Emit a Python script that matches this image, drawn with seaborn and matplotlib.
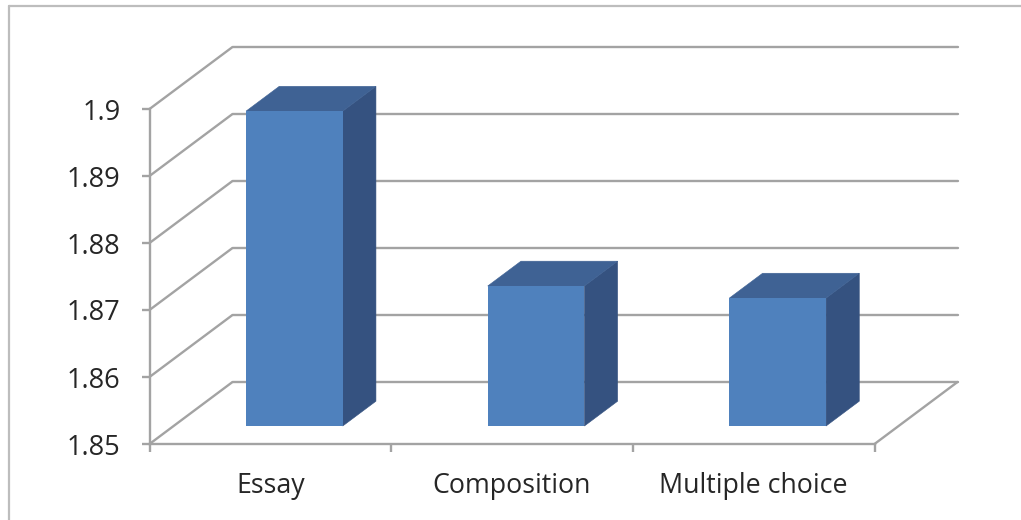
import matplotlib
matplotlib.use("Agg")
import matplotlib.pyplot as plt
import pandas as pd
import seaborn as sns
from matplotlib.lines import Line2D
from matplotlib.patches import Polygon

# Chart values
categories = ["Essay", "Composition", "Multiple choice"]
scores = [1.897, 1.8709, 1.8691]
tick_values = [1.85, 1.86, 1.87, 1.88, 1.89, 1.9]
tick_labels = ["1.85", "1.86", "1.87", "1.88", "1.89", "1.9"]

FIG_W, FIG_H = 1021, 520
AX_L, AX_R, AX_TOP, AX_BOT = 149.5, 874.5, 109, 444
GREY = "#a3a3a3"
TEXT = "#262626"
FRONT, SIDE, TOP = "#4f81bd", "#355280", "#3f6294"
LW = 1.7

sns.set_theme(style="white")
plt.rcParams["font.family"] = ["Open Sans", "DejaVu Sans"]

fig = plt.figure(figsize=(FIG_W / 100, FIG_H / 100), dpi=100, facecolor="white")
ax = fig.add_axes([AX_L / FIG_W, 1 - AX_BOT / FIG_H,
                   (AX_R - AX_L) / FIG_W, (AX_BOT - AX_TOP) / FIG_H])
ax.patch.set_visible(False)

frame = pd.DataFrame({"category": categories, "score": scores})
sns.barplot(data=frame, x="category", y="score", ax=ax, color=FRONT,
            saturation=1, width=0.4, zorder=3, linewidth=0)

ymin, ymax = tick_values[0], tick_values[-1]
ax.set_xlim(-0.5, 2.5)
ax.set_ylim(ymin, ymax)

# The oblique projection: how far one full step of depth moves in data units
depth_x = 83 / ((AX_R - AX_L) / 3)
depth_y = 62 / ((AX_BOT - AX_TOP) / (ymax - ymin))

# Side wall and back wall grid
line_kw = dict(color=GREY, lw=LW, clip_on=False, zorder=1, solid_capstyle="round")
for t in tick_values:
    ax.plot([-0.5, -0.5 + depth_x], [t, t + depth_y], **line_kw)
    ax.plot([-0.5 + depth_x, 2.5 + depth_x], [t + depth_y, t + depth_y], **line_kw)
ax.plot([2.5, 2.5 + depth_x], [ymin, ymin + depth_y], **line_kw)

# Extrude each column: front face sits part way into the floor
near, far = 0.29, 0.69
for patch, value in zip(ax.patches, scores):
    x0 = patch.get_x() + near * depth_x
    x1 = x0 + patch.get_width()
    y0 = ymin + near * depth_y
    y1 = value + near * depth_y
    patch.set_x(x0)
    patch.set_y(y0)
    patch.set_height(value - ymin)
    patch.set_clip_on(False)
    dx = (far - near) * depth_x
    dy = (far - near) * depth_y
    ax.add_patch(Polygon([(x1, y0), (x1 + dx, y0 + dy), (x1 + dx, y1 + dy), (x1, y1)],
                         closed=True, fc=SIDE, ec=SIDE, lw=0.4, clip_on=False, zorder=2.9))
    ax.add_patch(Polygon([(x0, y1), (x0 + dx, y1 + dy), (x1 + dx, y1 + dy), (x1, y1)],
                         closed=True, fc=TOP, ec=TOP, lw=0.4, clip_on=False, zorder=2.9))

# Axes styling
ax.set_xlabel("")
ax.set_ylabel("")
for side in ("top", "right"):
    ax.spines[side].set_visible(False)
for side in ("left", "bottom"):
    ax.spines[side].set_color(GREY)
    ax.spines[side].set_linewidth(LW)
    ax.spines[side].set_zorder(2)

ax.set_yticks(tick_values, tick_labels)
ax.set_xticks(range(len(categories)), categories)
ax.set_xticks([-0.5, 0.5, 1.5, 2.5], minor=True)
ax.tick_params(axis="y", which="major", left=True, length=5.8, width=LW, color=GREY,
               pad=15, labelsize=19.6, labelcolor=TEXT)
ax.tick_params(axis="x", which="major", bottom=False, length=0, pad=20.5,
               labelsize=19.3, labelcolor=TEXT)
ax.tick_params(axis="x", which="minor", bottom=True, length=5.8, width=LW, color=GREY)

# Thin border of the chart area along the top and left edge
border = "#bdbdbd"
fig.add_artist(Line2D([9 / FIG_W, 9 / FIG_W], [0, 1 - 6 / FIG_H], color=border, lw=1.6))
fig.add_artist(Line2D([9 / FIG_W, 1], [1 - 6 / FIG_H, 1 - 6 / FIG_H], color=border, lw=1.6))

fig.savefig("out.png", dpi=100, facecolor="white")
